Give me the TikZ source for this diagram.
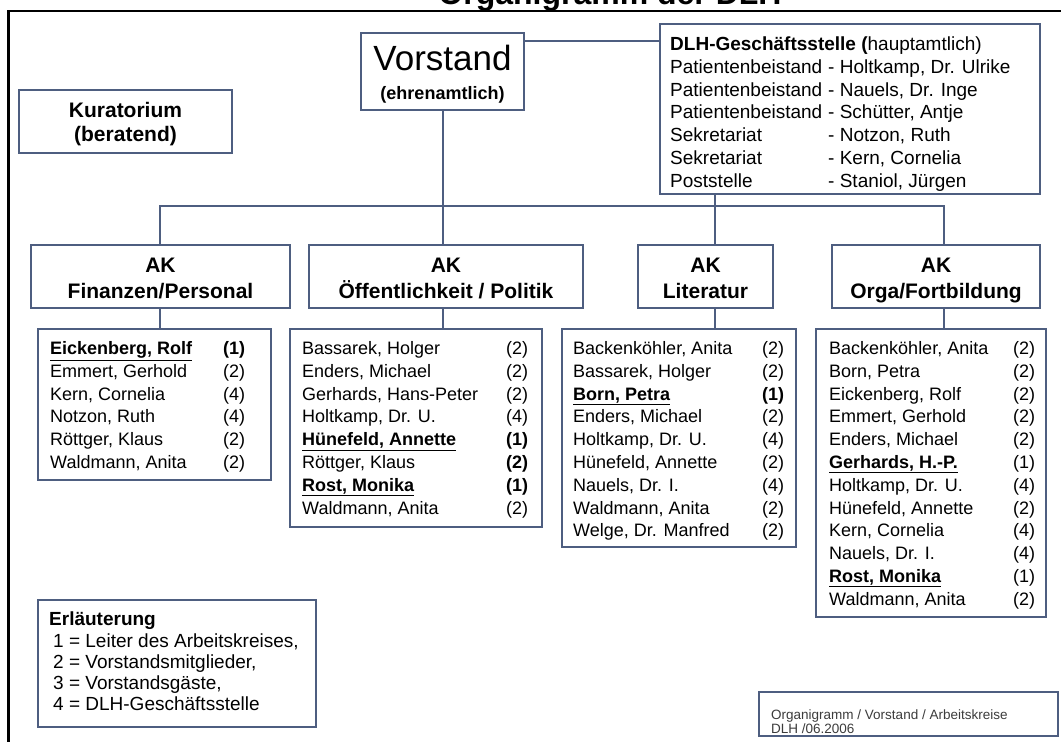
\documentclass[tikz,border=0pt]{standalone}
\usepackage{fontspec}
\setmainfont{Liberation Sans}
\definecolor{boxc}{RGB}{78,94,128}
\definecolor{foot}{RGB}{60,60,60}
\newcommand\ulb[1]{\underline{\textbf{#1}}}
\newcommand\memlist[4]{%
  \foreach \nm/\nr [count=\i from 0] in {#4} {%
    \node[mem] (#1n\i) at (#2,354.5+22.8*\i) {\nm};
    \node[mem] (#1r\i) at (#3,354.5+22.8*\i) {\nr};
  }}
\tikzset{
  box/.style={draw=boxc, line width=1.3pt, fill=white, inner sep=0pt},
  conn/.style={draw=boxc, line width=1.3pt},
  mem/.style={anchor=base west, inner sep=0pt, font=\fontsize{18}{22}\selectfont},
  dlhtxt/.style={anchor=base west, inner sep=0pt, font=\fontsize{19}{22}\selectfont},
  legtxt/.style={anchor=base west, inner sep=0pt, font=\fontsize{19}{22}\selectfont},
  aktxt/.style={anchor=base, inner sep=0pt, font=\bfseries\fontsize{21}{24}\selectfont},
}
\begin{document}
\begin{tikzpicture}[x=1pt,y=-1pt]
\useasboundingbox (0,0) rectangle (1061,742);
\fill[white] (0,0) rectangle (1061,742);
\clip (0,0) rectangle (1061,742);

% title and frame
\node[anchor=base, inner sep=0pt, font=\bfseries\fontsize{32}{36}\selectfont] (title) at (610,4) {Organigramm der DLH};
\draw[line width=2.5pt] (8.5,760) -- (8.5,11) -- (1075,11);

% coordinates for connectors
\coordinate (hy) at (0,41);
\coordinate (bus) at (0,206);
\coordinate (cfin) at (160,0);
\coordinate (coff) at (443,0);
\coordinate (clit) at (715,0);
\coordinate (corg) at (944,0);

% top boxes
\node[box, minimum width=163pt, minimum height=77pt] (vor) at (442.5,71.5) {};
\node[anchor=base, inner sep=0pt, font=\fontsize{35}{38}\selectfont] (vort) at (442.5,70) {Vorstand};
\node[anchor=base, inner sep=0pt, font=\bfseries\fontsize{18}{20}\selectfont] (vore) at (442.5,99) {(ehrenamtlich)};

\node[box, minimum width=213pt, minimum height=63pt] (kur) at (125.5,121.5) {};
\node[anchor=base, inner sep=0pt, font=\bfseries\fontsize{21}{24}\selectfont] (kurt) at (125.5,117) {Kuratorium};
\node[anchor=base, inner sep=0pt, font=\bfseries\fontsize{21}{24}\selectfont] (kurb) at (125.5,141) {(beratend)};

\node[box, minimum width=380pt, minimum height=170pt] (dlh) at (850,109) {};
\node[dlhtxt] (dlh0) at (670,50.5) {\textbf{DLH-Geschäftsstelle (}hauptamtlich)};
\foreach \a/\b [count=\i from 1] in {Patientenbeistand/{- Holtkamp, Dr. Ulrike},
    Patientenbeistand/{- Nauels, Dr. Inge}, Patientenbeistand/{- Schütter, Antje},
    Sekretariat/{- Notzon, Ruth}, Sekretariat/{- Kern, Cornelia}, Poststelle/{- Staniol, Jürgen}} {
  \node[dlhtxt] (dlha\i) at (670,50.5+22.8*\i) {\a};
  \node[dlhtxt] (dlhb\i) at (828,50.5+22.8*\i) {\b};
}

% AK boxes
\node[box, minimum width=259pt, minimum height=63pt] (akfin) at (160.5,276.5) {};
\node[box, minimum width=274pt, minimum height=63pt] (akoff) at (446,276.5) {};
\node[box, minimum width=135pt, minimum height=63pt] (aklit) at (705.5,276.5) {};
\node[box, minimum width=208pt, minimum height=63pt] (akorg) at (936,276.5) {};
\node[aktxt] (akfin1) at (160.5,272.5) {AK};
\node[aktxt] (akfin2) at (160.5,298) {Finanzen/Personal};
\node[aktxt] (akoff1) at (446,272.5) {AK};
\node[aktxt] (akoff2) at (446,298) {Öffentlichkeit / Politik};
\node[aktxt] (aklit1) at (705.5,272.5) {AK};
\node[aktxt] (aklit2) at (705.5,298) {Literatur};
\node[aktxt] (akorg1) at (936,272.5) {AK};
\node[aktxt] (akorg2) at (936,298) {Orga/Fortbildung};

% member boxes
\node[box, minimum width=233pt, minimum height=151pt] (fin) at (154.5,404.5) {};
\node[box, minimum width=252pt, minimum height=198pt] (off) at (416,428) {};
\node[box, minimum width=234pt, minimum height=218pt] (lit) at (679,438) {};
\node[box, minimum width=230pt, minimum height=288pt] (org) at (931,473) {};

\memlist{fin}{50}{223}{{\ulb{Eickenberg, Rolf}}/{\textbf{(1)}}, {Emmert, Gerhold}/(2),
  {Kern, Cornelia}/(4), {Notzon, Ruth}/(4), {Röttger, Klaus}/(2), {Waldmann, Anita}/(2)}
\memlist{off}{302}{506}{{Bassarek, Holger}/(2), {Enders, Michael}/(2),
  {Gerhards, Hans-Peter}/(2), {Holtkamp, Dr. U.}/(4), {\ulb{Hünefeld, Annette}}/{\textbf{(1)}},
  {Röttger, Klaus}/{\textbf{(2)}}, {\ulb{Rost, Monika}}/{\textbf{(1)}}, {Waldmann, Anita}/(2)}
\memlist{lit}{573}{762}{{Backenköhler, Anita}/(2), {Bassarek, Holger}/(2),
  {\ulb{Born, Petra}}/{\textbf{(1)}}, {Enders, Michael}/(2), {Holtkamp, Dr. U.}/(4),
  {Hünefeld, Annette}/(2), {Nauels, Dr. I.}/(4), {Waldmann, Anita}/(2), {Welge, Dr. Manfred}/(2)}
\memlist{org}{829}{1013}{{Backenköhler, Anita}/(2), {Born, Petra}/(2), {Eickenberg, Rolf}/(2),
  {Emmert, Gerhold}/(2), {Enders, Michael}/(2), {\ulb{Gerhards, H.-P.}}/(1),
  {Holtkamp, Dr. U.}/(4), {Hünefeld, Annette}/(2), {Kern, Cornelia}/(4), {Nauels, Dr. I.}/(4),
  {\ulb{Rost, Monika}}/(1), {Waldmann, Anita}/(2)}

% connectors
\draw[conn] (vor.east |- hy) -- (dlh.west |- hy);
\draw[conn] (coff |- vor.south) -- (coff |- akoff.north);
\draw[conn] (clit |- dlh.south) -- (clit |- aklit.north);
\draw[conn] (cfin |- akfin.north) -- (cfin |- bus) -- (corg |- bus) -- (corg |- akorg.north);
\draw[conn] (cfin |- akfin.south) -- (cfin |- fin.north);
\draw[conn] (coff |- akoff.south) -- (coff |- off.north);
\draw[conn] (clit |- aklit.south) -- (clit |- lit.north);
\draw[conn] (corg |- akorg.south) -- (corg |- org.north);

% legend
\node[box, minimum width=278pt, minimum height=127pt] (leg) at (177,663.5) {};
\node[legtxt, font=\bfseries\fontsize{19}{22}\selectfont] (leg0) at (49,625.8) {Erläuterung};
\foreach \t [count=\i from 1] in {1 = Leiter des Arbeitskreises{,}, 2 = Vorstandsmitglieder{,},
    3 = Vorstandsgäste{,}, 4 = DLH-Geschäftsstelle} {
  \node[legtxt] (leg\i) at (53,626.8+21*\i) {\t};
}

% footer
\node[box, minimum width=299pt, minimum height=44pt] (foot) at (908.5,714) {};
\node[anchor=base west, inner sep=0pt, text=foot, font=\fontsize{13.5}{14}\selectfont] (foot1) at (771,719.5) {Organigramm / Vorstand / Arbeitskreise};
\node[anchor=base west, inner sep=0pt, text=foot, font=\fontsize{13.5}{14}\selectfont] (foot2) at (771,733) {DLH /06.2006};
\end{tikzpicture}
\end{document}
